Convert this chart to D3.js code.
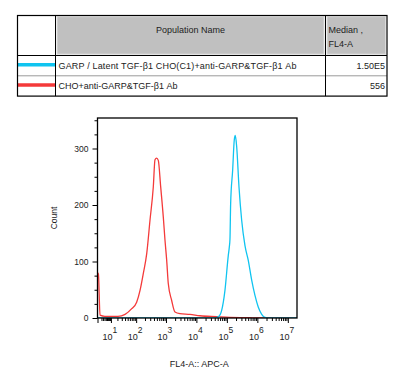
<!DOCTYPE html>
<html>
<head>
<meta charset="utf-8">
<script src="https://cdn.jsdelivr.net/npm/d3@7"></script>
<style>
  body { margin: 0; background: #fff; }
  svg { display: block; font-family: "Liberation Sans", Arial, sans-serif; }
</style>
</head>
<body>
<div id="chart"></div>
<script>
// data
var headers = ["Population Name", "Median ,|FL4-A"];
var names = ["GARP / Latent TGF-\u03b21 CHO(C1)+anti-GARP&TGF-\u03b21 Ab", "CHO+anti-GARP&TGF-\u03b21 Ab"];
var medians = ["1.50E5", "556"];
var colors = ["#10c4f0", "#f43a3a"];

// [FL4-A value, count]
var redHist = [[0, 80], [0.4, 78], [1.2, 5], [4.3, 3], [8.9, 3], [21, 3], [40, 6.5], [70, 16.5], [104, 28],
  [136, 49], [176, 79], [229, 114], [295, 173], [380, 232], [433, 280], [490, 283], [557, 279], [669, 232],
  [815, 179], [927, 138], [1056, 102], [1191, 61], [1540, 31], [1980, 10.6], [2890, 7.8], [6160, 6.5],
  [13100, 4], [46300, 2.4], [126500, 1.2], [570000, 0.5], [1e6, 0], [2e7, 0]];
var blueHist = [[0, 0], [40000, 0], [52300, 2], [67500, 13.6], [86600, 49], [111000, 110], [120000, 125],
  [126500, 140], [133000, 202], [155000, 262], [175000, 315], [189000, 323], [210000, 303], [250000, 232],
  [306000, 173], [393000, 128], [504000, 102], [652000, 67], [836000, 40], [1070000, 19.5], [1390000, 6.5],
  [1780000, 1], [2600000, 0], [2e7, 0]];

var yTicks = [0, 100, 200, 300];
var decades = [1, 2, 3, 4, 5, 6, 7];

var W = 400, H = 370;
var svg = d3.select("#chart").append("svg")
    .attr("width", W)
    .attr("height", H);

// 1: table with legend
var tbl = {left: 17.5, right: 387, top: 15.5, head: 55.5, rowH: 20.3, c1: 55.5, c2: 325.5};
var fs = 9;
var t = svg.append("g");

t.append("rect").attr("x", tbl.c1 + 1.5).attr("y", tbl.top + 1.2)
  .attr("width", tbl.c2 - tbl.c1 - 3).attr("height", tbl.head - tbl.top - 2.5)
  .attr("fill", "#c0c0c0").attr("stroke", "#dcdcdc").attr("stroke-width", 1);
t.append("rect").attr("x", tbl.c2 + 1.5).attr("y", tbl.top + 1.2)
  .attr("width", tbl.right - tbl.c2 - 3).attr("height", tbl.head - tbl.top - 2.5)
  .attr("fill", "#c0c0c0").attr("stroke", "#dcdcdc").attr("stroke-width", 1);

t.append("text").attr("x", (tbl.c1 + tbl.c2) / 2).attr("y", 33)
  .attr("text-anchor", "middle").attr("font-size", fs).attr("fill", "#222")
  .text(headers[0]);
headers[1].split("|").forEach(function(s, i) {
  t.append("text").attr("x", tbl.c2 + 3).attr("y", 33 + i * 14)
    .attr("font-size", fs).attr("fill", "#222").text(s);
});

names.forEach(function(n, i) {
  var y0 = tbl.head + i * tbl.rowH;
  var cy = y0 + tbl.rowH / 2;
  t.append("line").attr("x1", tbl.left).attr("x2", tbl.c1).attr("y1", cy - 1).attr("y2", cy - 1)
    .attr("stroke", colors[i]).attr("stroke-width", 3.5);
  var tx = t.append("text").attr("x", tbl.c1 + 3).attr("y", cy + 3.5)
    .attr("font-size", fs).attr("fill", "#222").text(n);
  // the source row is rendered a bit wider than the font gives
  if (i === 0) tx.attr("textLength", 238).attr("lengthAdjust", "spacing");
  t.append("text").attr("x", tbl.right - 2).attr("y", cy + 3.5)
    .attr("text-anchor", "end").attr("font-size", fs).attr("fill", "#222").text(medians[i]);
  if (i > 0) {
    t.append("line").attr("x1", tbl.left).attr("x2", tbl.right).attr("y1", y0).attr("y2", y0)
      .attr("stroke", "#9a9a9a").attr("stroke-width", 1);
  }
});

t.append("line").attr("x1", tbl.left).attr("x2", tbl.right).attr("y1", tbl.head).attr("y2", tbl.head)
  .attr("stroke", "#000").attr("stroke-width", 1.2);
[tbl.c1, tbl.c2].forEach(function(c) {
  t.append("line").attr("x1", c).attr("x2", c).attr("y1", tbl.top).attr("y2", tbl.head + 2 * tbl.rowH)
    .attr("stroke", "#000").attr("stroke-width", 1);
});
t.append("rect").attr("x", tbl.left).attr("y", tbl.top)
  .attr("width", tbl.right - tbl.left).attr("height", tbl.head + 2 * tbl.rowH - tbl.top)
  .attr("fill", "none").attr("stroke", "#000").attr("stroke-width", 1.2);

// 2: scales
var plot = {left: 97.5, right: 297, top: 118, bottom: 318};
var x = d3.scaleSymlog().constant(5.7)
    .domain([0, 2e7])
    .range([plot.left, plot.right]);
var y = d3.scaleLinear()
    .domain([0, 354])
    .range([plot.bottom, plot.top]);

// 3: histograms
svg.append("clipPath").attr("id", "clip")
  .append("rect").attr("x", plot.left).attr("y", plot.top)
  .attr("width", plot.right - plot.left).attr("height", plot.bottom - plot.top);

var line = d3.line()
    .x(function(d) { return x(d[0]); })
    .y(function(d) { return y(d[1]); })
    .curve(d3.curveMonotoneX);

var g = svg.append("g").attr("clip-path", "url(#clip)");
g.append("path").datum(redHist).attr("d", line)
  .attr("fill", "none").attr("stroke", colors[1]).attr("stroke-width", 1.3);
g.append("path").datum(blueHist).attr("d", line)
  .attr("fill", "none").attr("stroke", colors[0]).attr("stroke-width", 1.3);

// 4: axes
var minorX = [];
for (var e = 0; e < 7; e++) {
  for (var k = 2; k < 10; k++) minorX.push(k * Math.pow(10, e));
}
var majorX = [0].concat(decades.map(function(d) { return Math.pow(10, d); }));

svg.append("g")
    .attr("transform", "translate(0," + plot.bottom + ")")
    .call(d3.axisBottom(x).tickValues(minorX).tickSize(3).tickFormat(""))
    .call(function(a) { a.select(".domain").remove(); });
svg.append("g")
    .attr("transform", "translate(0," + plot.bottom + ")")
    .call(d3.axisBottom(x).tickValues(majorX).tickSize(5).tickFormat(""))
    .call(function(a) { a.select(".domain").remove(); });

var xl = svg.append("g").selectAll("text").data(decades).enter().append("text")
    .attr("x", function(d) { return x(Math.pow(10, d)) - 1; })
    .attr("y", 340)
    .attr("text-anchor", "middle")
    .attr("font-size", 9)
    .attr("fill", "#222");
xl.append("tspan").text("10");
xl.append("tspan").attr("dy", -7).attr("font-size", 8.5).text(function(d) { return d; });

var minorY = d3.range(25, 354, 25).filter(function(d) { return d % 100 !== 0; });
svg.append("g")
    .attr("transform", "translate(" + plot.left + ",0)")
    .call(d3.axisLeft(y).tickValues(minorY).tickSize(3).tickFormat(""))
    .call(function(a) { a.select(".domain").remove(); });
svg.append("g")
    .attr("transform", "translate(" + plot.left + ",0)")
    .call(d3.axisLeft(y).tickValues(yTicks).tickSize(5).tickPadding(4))
    .call(function(a) {
      a.select(".domain").remove();
      a.selectAll("text").attr("font-size", 8.5).attr("fill", "#222")
        .style("font-family", "Liberation Sans, Arial, sans-serif");
    });

svg.append("rect")
  .attr("x", plot.left).attr("y", plot.top)
  .attr("width", plot.right - plot.left).attr("height", plot.bottom - plot.top)
  .attr("fill", "none").attr("stroke", "#000").attr("stroke-width", 1.3);

// 5: titles
svg.append("text")
  .attr("transform", "translate(57," + (plot.top + plot.bottom) / 2 + ") rotate(-90)")
  .attr("text-anchor", "middle").attr("font-size", 8.5).attr("fill", "#222")
  .text("Count");
svg.append("text")
  .attr("x", (plot.left + plot.right) / 2 + 2).attr("y", 367)
  .attr("text-anchor", "middle").attr("font-size", 9).attr("fill", "#222")
  .text("FL4-A:: APC-A");
</script>
</body>
</html>
